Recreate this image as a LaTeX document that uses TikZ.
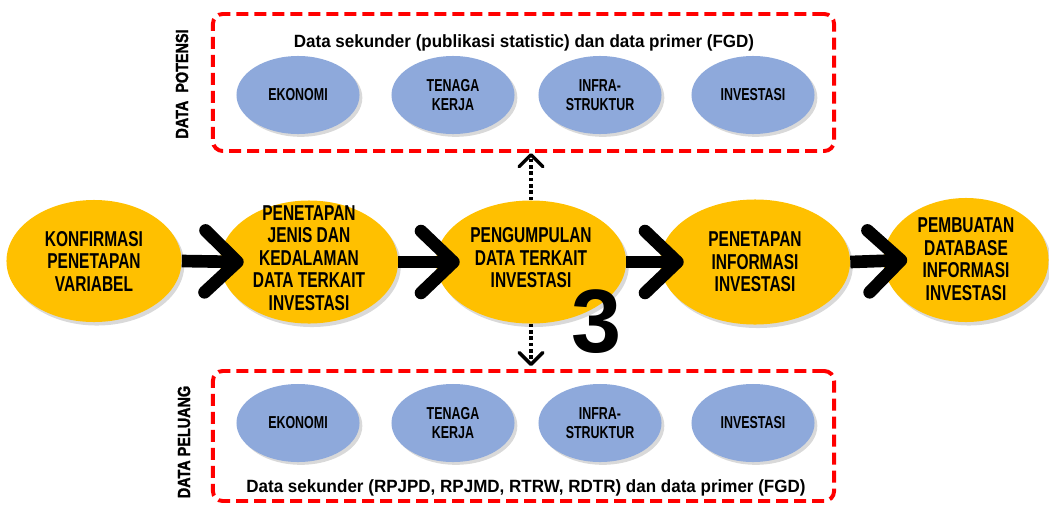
\documentclass[tikz,border=0pt]{standalone}
\usepackage{fontspec}
\setmainfont{Liberation Sans}
\newfontfamily\stepfont[FakeStretch=0.72]{Liberation Sans}
\newfontfamily\notefont[FakeStretch=0.96]{Liberation Sans}
\newfontfamily\sidefont[FakeStretch=0.82, FakeBold=1.5]{Liberation Sans}
\usetikzlibrary{shapes.geometric, arrows.meta, shadows}
\definecolor{stepgold}{HTML}{FFC000}
\definecolor{topicblue}{HTML}{8EA9DB}

\begin{document}
\begin{tikzpicture}[x=0.025cm, y=-0.025cm]
    \tikzstyle{stepnode}=[ellipse, fill=stepgold, inner sep=0pt, minimum height=3.075cm, drop shadow={shadow xshift=2pt, shadow yshift=-2.5pt, opacity=0.3}]
    \tikzstyle{steptext}=[align=center, inner sep=0pt, font=\stepfont\bfseries\fontsize{15.3}{16}\selectfont]
    \tikzstyle{topic}=[ellipse, fill=topicblue, inner sep=0pt, minimum width=3.075cm, minimum height=1.95cm, align=center, font=\stepfont\bfseries\fontsize{12.3}{13}\selectfont, drop shadow={shadow xshift=2pt, shadow yshift=-2pt, opacity=0.3}]
    \tikzstyle{databox}=[draw=red, line width=2.8pt, dash pattern=on 8.5pt off 4.3pt, rounded corners=7pt, minimum width=15.525cm]
    \tikzstyle{note}=[inner sep=0pt, font=\notefont\bfseries\fontsize{12.6}{14}\selectfont]
    \tikzstyle{side}=[inner sep=0pt, rotate=90, font=\sidefont\bfseries\fontsize{12.5}{14}\selectfont]
    \tikzstyle{edge}=[draw, line width=9pt, -{Straight Barb[length=23pt, width=44pt, round]}]
    \tikzstyle{dotlink}=[draw, line width=2.5pt, dash pattern=on 2.5pt off 2pt, -{Straight Barb[length=8.5pt, width=17pt, round]}]

    \useasboundingbox (0,0) rectangle (1049,506);

    % data boxes
    \node[databox, minimum height=3.425cm] (potbox) at (523.5,82.5) {};
    \node[databox, minimum height=3.25cm] (pelbox) at (523.5,436) {};
    \node[side] (potlabel) at (182,84) {DATA\ \ POTENSI};
    \node[side] (pellabel) at (184,442) {DATA PELUANG};
    \node[note] (potnote) at (524,43) {Data sekunder (publikasi statistic) dan data primer (FGD)};
    \node[note] (pelnote) at (526,488) {Data sekunder (RPJPD, RPJMD, RTRW, RDTR) dan data primer (FGD)};

    \node[topic] (pot1) at (298,95) {EKONOMI};
    \node[topic] (pot2) at (453,95) {TENAGA\\KERJA};
    \node[topic] (pot3) at (600,95) {INFRA-\\STRUKTUR};
    \node[topic] (pot4) at (753,95) {INVESTASI};
    \node[topic] (pel1) at (298,423) {EKONOMI};
    \node[topic] (pel2) at (453,423) {TENAGA\\KERJA};
    \node[topic] (pel3) at (600,423) {INFRA-\\STRUKTUR};
    \node[topic] (pel4) at (753,423) {INVESTASI};

    % main steps
    \node[stepnode, minimum width=4.375cm, minimum height=3.05cm] (k1) at (94,261) {};
    \node[stepnode, minimum width=4.45cm] (k2) at (309,262) {};
    \node[stepnode, minimum width=4.75cm] (k3) at (531,262) {};
    \node[stepnode, minimum width=4.75cm, minimum height=3.125cm] (k4) at (755,262) {};
    \node[stepnode, minimum width=4.125cm, minimum height=3.1cm] (k5) at (966,260) {};

    \node[steptext] (k1txt) at (k1) {KONFIRMASI\\PENETAPAN\\VARIABEL};
    \node[steptext] (k2txt) at (309,258) {PENETAPAN\\JENIS DAN\\KEDALAMAN\\DATA TERKAIT\\INVESTASI};
    \node[steptext] (k3txt) at (531,258) {PENGUMPULAN\\DATA TERKAIT\\INVESTASI};
    \node[steptext] (k4txt) at (k4) {PENETAPAN\\INFORMASI\\INVESTASI};
    \node[steptext] (k5txt) at (966,259) {PEMBUATAN\\DATABASE\\INFORMASI\\INVESTASI};

    \path[edge] (k1.east) -- ([xshift=0.6cm]k2.west);
    \path[edge] (k2.east) -- ([xshift=0.6cm]k3.west);
    \path[edge] (k3.east) -- ([xshift=0.6cm]k4.west);
    \path[edge] (k4.east) -- ([xshift=0.6cm]k5.west);

    \path[dotlink] (k3.north) -- (k3.north |- potbox.south);
    \path[dotlink, shorten >=2pt] (k3.south) -- (k3.south |- pelbox.north);

    \node[inner sep=0pt, font=\bfseries\fontsize{64}{64}\selectfont] (stepnum) at (597,322) {3};
\end{tikzpicture}
\end{document}
